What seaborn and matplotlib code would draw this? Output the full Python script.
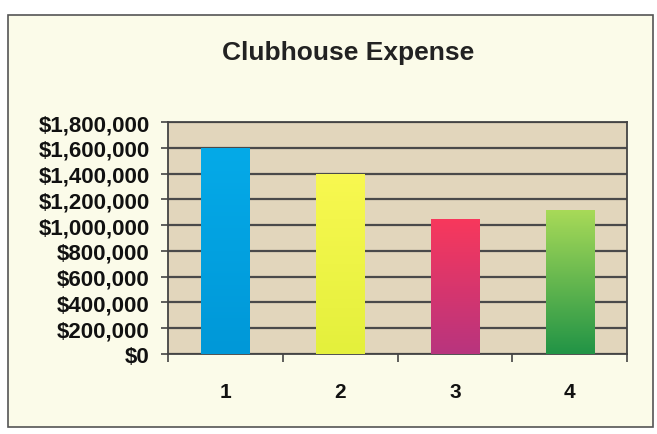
import numpy as np
import pandas as pd
import matplotlib
matplotlib.use("Agg")
import matplotlib.pyplot as plt
from matplotlib.patches import Rectangle
from matplotlib.colors import LinearSegmentedColormap
from matplotlib.ticker import FuncFormatter, FixedLocator
import seaborn as sns

# data
quarters = ["1", "2", "3", "4"]
expense = [1600000, 1400000, 1050000, 1120000]
y_ticks = [0, 200000, 400000, 600000, 800000, 1000000, 1200000, 1400000, 1600000, 1800000]

# top / bottom colours of each bar gradient
bar_top = ["#05aae8", "#f8f850", "#f8385c", "#a8da58"]
bar_bottom = ["#0098d8", "#e4f03c", "#b8347e", "#229446"]

sns.set_theme(style="white")
plt.rcParams["font.family"] = ["Liberation Sans", "DejaVu Sans"]

df = pd.DataFrame({"quarter": quarters, "expense": expense})

fig = plt.figure(figsize=(6.57, 4.35), dpi=100, facecolor="white")
# chart frame
fig.patches.append(Rectangle((8 / 657, 1 - 428 / 435), 645 / 657, 412 / 435,
                             transform=fig.transFigure, facecolor="#fbfbe9",
                             edgecolor="#555555", linewidth=1.2, zorder=-5))

ax = fig.add_axes([168 / 657, 1 - 355 / 435, 459 / 657, 232 / 435])
ax.set_facecolor("#e2d6bc")

sns.barplot(data=df, x="quarter", y="expense", color="#05aae8", width=0.42,
            saturation=1, ax=ax, zorder=3)

# gradient fill for each bar
for patch, c_top, c_bot in zip(ax.patches, bar_top, bar_bottom):
    x0, y0 = patch.get_x(), patch.get_y()
    w, h = patch.get_width(), patch.get_height()
    cmap = LinearSegmentedColormap.from_list("g", [c_bot, c_top])
    grad = np.linspace(0, 1, 100).reshape(-1, 1)
    im = ax.imshow(grad, cmap=cmap, extent=[x0, x0 + w, y0, y0 + h],
                   origin="lower", aspect="auto", zorder=4)
    im.set_clip_path(patch)
    patch.set_edgecolor("none")
ax.set_xlim(-0.5, 3.5)
ax.set_ylim(0, 1800000)

# grid lines
ax.yaxis.set_major_locator(FixedLocator(y_ticks))
ax.grid(axis="y", color="#4a4a4a", linewidth=1.6, zorder=1)
ax.set_axisbelow(True)

ax.yaxis.set_major_formatter(FuncFormatter(lambda v, p: "${:,.0f}".format(v)))
ax.tick_params(axis="y", which="major", left=True, length=5, width=1.2,
               color="#444444", labelsize=16, pad=8)
for lab in ax.get_yticklabels():
    lab.set_fontweight("bold")
    lab.set_color("#111111")

# category labels below, ticks between categories
ax.set_xticks(range(len(quarters)))
ax.set_xticklabels(quarters, fontsize=15, fontweight="bold", color="#111111")
ax.tick_params(axis="x", which="major", bottom=False, pad=14)
ax.set_xticks([-0.5, 0.5, 1.5, 2.5, 3.5], minor=True)
ax.tick_params(axis="x", which="minor", bottom=True, length=6, width=1.2,
               color="#444444")

for side in ["left", "bottom", "right", "top"]:
    ax.spines[side].set_visible(True)
    ax.spines[side].set_color("#444444")
    ax.spines[side].set_linewidth(1.3)

ax.set_xlabel("")
ax.set_ylabel("")

fig.text(348 / 657, 1 - 53 / 435, "Clubhouse Expense", ha="center", va="center",
         fontsize=19, fontweight="bold", color="#222222")

fig.savefig("out.png", dpi=100, facecolor=fig.get_facecolor())
